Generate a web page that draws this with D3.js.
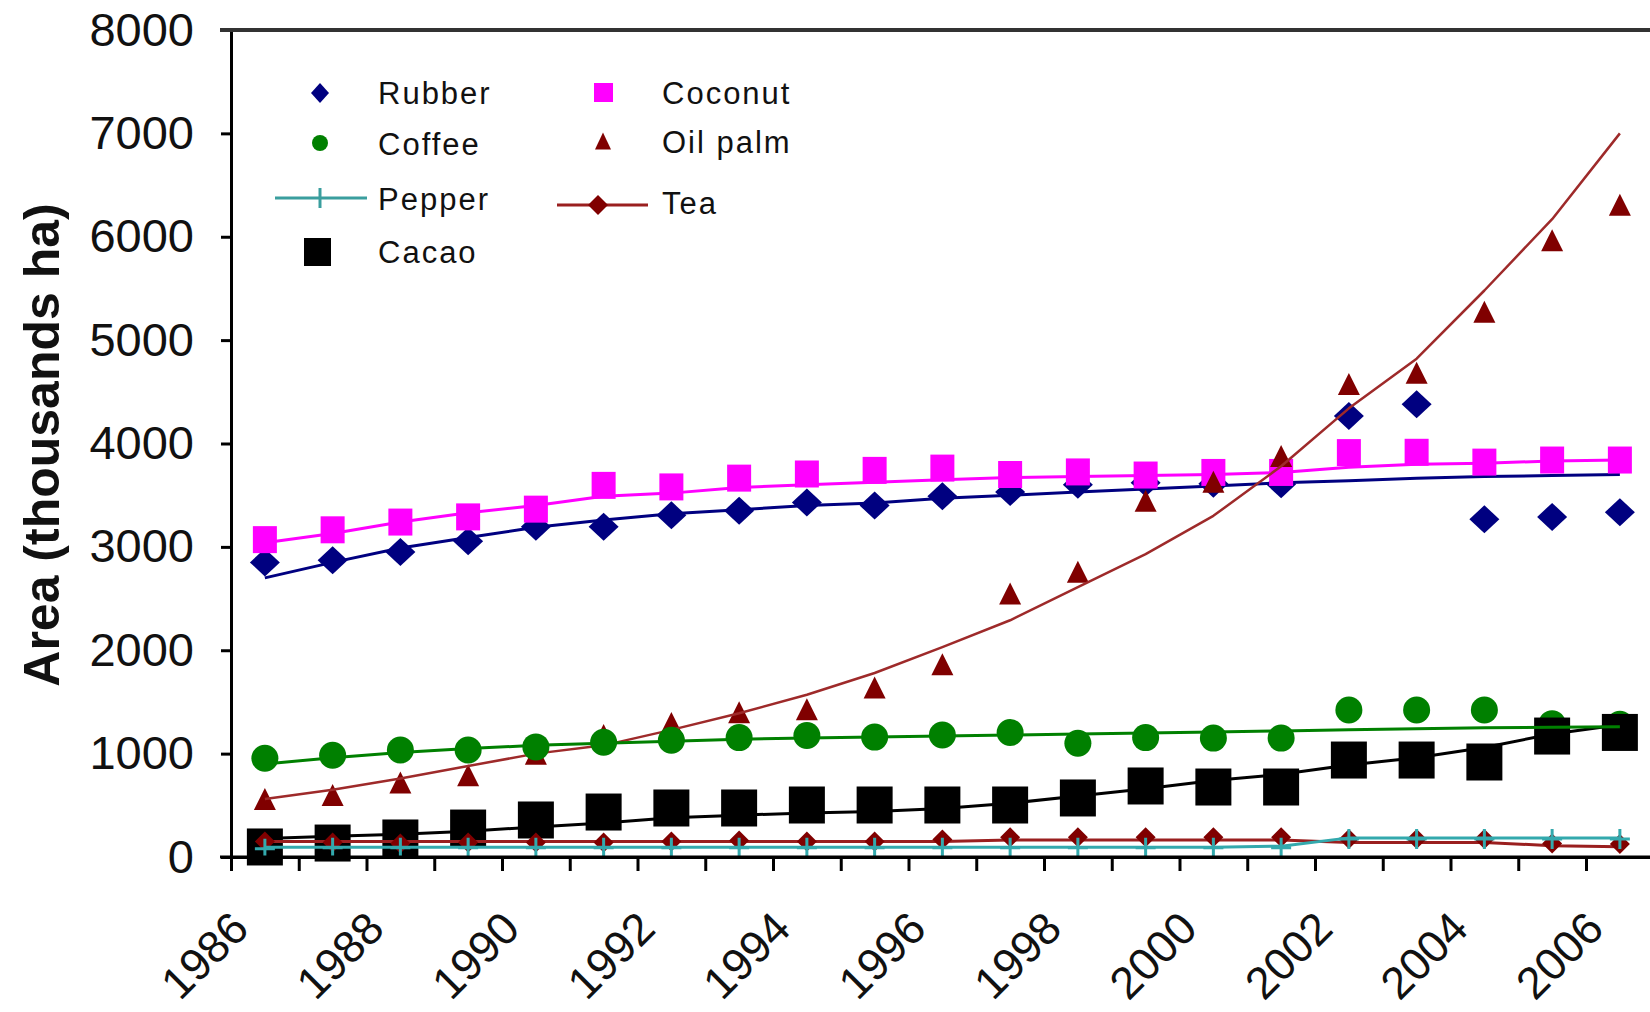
<!DOCTYPE html>
<html><head><meta charset="utf-8">
<script src="https://cdn.jsdelivr.net/npm/d3@7"></script>
<style>html,body{margin:0;padding:0;background:#fff;} svg{display:block;}</style>
</head><body>
<svg id="chart" width="1650" height="1012"></svg>
<script>
// ---- DATA ----
const years = [1986,1987,1988,1989,1990,1991,1992,1993,1994,1995,1996,1997,1998,1999,2000,2001,2002,2003,2004,2005,2006];
const xTickLabels = [1986,1988,1990,1992,1994,1996,1998,2000,2002,2004,2006];
const yTickValues = [0,1000,2000,3000,4000,5000,6000,7000,8000];

const rubberPoints  = [2850,2870,2950,3055,3195,3195,3305,3350,3430,3400,3490,3530,3600,3620,3610,3605,4265,4380,3267,3290,3335];
const rubberLine    = [2700,2850,2990,3090,3190,3260,3320,3360,3400,3425,3470,3500,3530,3560,3590,3620,3640,3665,3680,3690,3700];
const coconutPoints = [3070,3165,3240,3290,3365,3595,3580,3665,3705,3740,3762,3700,3725,3695,3720,3720,3912,3915,3820,3840,3840];
const coconutLine   = [3040,3130,3240,3330,3400,3490,3520,3575,3600,3625,3650,3670,3680,3690,3700,3720,3770,3800,3810,3830,3840];
const coffeePoints  = [955,985,1035,1035,1065,1110,1130,1155,1175,1160,1180,1205,1100,1155,1150,1150,1422,1422,1422,1290,1285];
const coffeeLine    = [900,960,1010,1050,1080,1100,1120,1140,1150,1160,1170,1180,1190,1200,1210,1220,1230,1240,1250,1255,1260];
const oilPalmPoints = [560,600,720,790,1000,1180,1296,1400,1430,1640,1865,2550,2760,3445,3630,3880,4575,4685,5275,5965,6310];
const oilPalmLine   = [560,650,760,880,1000,1080,1230,1390,1570,1780,2030,2290,2610,2930,3300,3780,4340,4820,5480,6170,7000];
const cacaoPoints   = [97,135,184,280,358,435,474,474,503,503,503,503,571,687,677,677,938,938,919,1170,1205];
const cacaoLine     = [180,200,220,250,290,330,380,405,425,440,470,520,590,660,740,800,890,960,1060,1190,1280];
const teaPoints     = [150,140,130,140,140,140,150,160,150,150,170,190,190,190,190,190,175,175,175,130,125];
const teaLine       = [150,150,150,150,150,150,150,150,150,150,150,165,165,165,165,165,140,140,140,110,100];
const pepperPoints  = [80,90,90,90,90,90,90,90,90,90,90,90,90,90,90,90,175,175,175,175,175];
const pepperLine    = [95,95,95,95,95,95,95,95,95,95,95,95,95,95,95,105,185,185,185,185,185];

const legendLeft  = ["Rubber","Coffee","Pepper","Cacao"];
const legendRight = ["Coconut","Oil palm","Tea"];

// ---- CHART ----
const svg = d3.select("#chart");
const FONT = "'Liberation Sans', Arial, sans-serif";
const x = d3.scaleBand().domain(years).range([231, 231 + 21 * 67.75]).padding(0);
const y = d3.scaleLinear().domain([0, 8000]).range([857, 30]);
const cx = yr => x(yr) + x.bandwidth() / 2;

const C = {
  rubber: "#000080", coconut: "#ff00ff", coffee: "#008000",
  oil: "#800000", oilLine: "#9e2a2a", cacao: "#000000",
  tea: "#800000", teaLine: "#9a1f1f", pepper: "#33a9ad", pepperLegend: "#3a9e9e"
};

const plot = svg.append("g");

// axes
const yAxis = svg.append("g").attr("transform", "translate(231,0)")
  .call(d3.axisLeft(y).tickValues(yTickValues).tickSize(10).tickPadding(27).tickFormat(d3.format("d")));
yAxis.select(".domain").attr("stroke", "#000").attr("stroke-width", 3);
yAxis.selectAll(".tick line").attr("stroke", "#000").attr("stroke-width", 3);
yAxis.selectAll(".tick text").attr("font-family", FONT).attr("font-size", 47).attr("fill", "#111");

// top border
svg.append("line").attr("x1", 220).attr("x2", 1650).attr("y1", y(8000)).attr("y2", y(8000))
  .attr("stroke", "#333").attr("stroke-width", 4);

// x axis (ticks at category boundaries)
const xb = d3.scaleLinear().domain([0, years.length]).range(x.range());
const xAxisTicks = svg.append("g").attr("transform", `translate(0,${y(0)})`)
  .call(d3.axisBottom(xb).tickValues(d3.range(0, years.length + 1)).tickSize(14).tickFormat(""));
xAxisTicks.select(".domain").attr("stroke", "#000").attr("stroke-width", 3);
xAxisTicks.selectAll(".tick line").attr("stroke", "#000").attr("stroke-width", 3);
svg.append("line").attr("x1", 220).attr("x2", 1650).attr("y1", y(0)).attr("y2", y(0)).attr("stroke", "#000").attr("stroke-width", 3);

const xLabels = svg.append("g").attr("transform", `translate(0,${y(0)})`)
  .call(d3.axisBottom(x).tickValues(xTickLabels).tickSize(0));
xLabels.select(".domain").remove();
xLabels.selectAll(".tick text")
  .attr("font-family", FONT).attr("font-size", 45).attr("fill", "#111")
  .attr("text-anchor", "end").attr("y", 0).attr("dy", 0)
  .attr("transform", "translate(-14,74) rotate(-45)");

// y title
svg.append("text").attr("transform", `translate(59,445) rotate(-90)`)
  .attr("text-anchor", "middle").attr("font-family", FONT).attr("font-weight", "bold")
  .attr("font-size", 50).attr("fill", "#111").text("Area (thousands ha)");

// helpers
const lineGen = d3.line().x((d, i) => cx(years[i])).y(d => y(d));
function drawLine(vals, color, w) {
  plot.append("path").datum(vals).attr("d", lineGen).attr("fill", "none")
    .attr("stroke", color).attr("stroke-width", w).attr("stroke-linejoin", "round");
}
const diamondPath = (px, py, hw, hh) => `M${px},${py - hh}L${px + hw},${py}L${px},${py + hh}L${px - hw},${py}Z`;
const triPath = (px, py, w, h) => `M${px},${py - h / 2}L${px + w / 2},${py + h / 2}L${px - w / 2},${py + h / 2}Z`;

function diamonds(vals, color, hw, hh) {
  plot.append("g").selectAll("path").data(vals).join("path")
    .attr("d", (d, i) => diamondPath(cx(years[i]), y(d), hw, hh)).attr("fill", color);
}
function squares(vals, color, w, h) {
  plot.append("g").selectAll("rect").data(vals).join("rect")
    .attr("x", (d, i) => cx(years[i]) - w / 2).attr("y", d => y(d) - h / 2)
    .attr("width", w).attr("height", h).attr("fill", color);
}
function circles(vals, color, r) {
  plot.append("g").selectAll("circle").data(vals).join("circle")
    .attr("cx", (d, i) => cx(years[i])).attr("cy", d => y(d)).attr("r", r).attr("fill", color);
}
function triangles(vals, color, w, h) {
  plot.append("g").selectAll("path").data(vals).join("path")
    .attr("d", (d, i) => triPath(cx(years[i]), y(d), w, h)).attr("fill", color);
}
function pluses(vals, color, s) {
  const g = plot.append("g");
  g.selectAll("path").data(vals).join("path")
    .attr("d", (d, i) => { const px = cx(years[i]), py = y(d); return `M${px - s},${py}H${px + s}M${px},${py - s}V${py + s}`; })
    .attr("stroke", color).attr("stroke-width", 3).attr("fill", "none");
}

// series
drawLine(rubberLine, C.rubber, 3);
diamonds(rubberPoints, C.rubber, 15, 14);
drawLine(coconutLine, C.coconut, 3);
squares(coconutPoints, C.coconut, 24, 27);
triangles(oilPalmPoints, C.oil, 22, 22);
drawLine(oilPalmLine, C.oilLine, 2.5);
circles(coffeePoints, C.coffee, 13.5);
drawLine(cacaoLine, C.cacao, 3);
squares(cacaoPoints, C.cacao, 36, 37);
drawLine(coffeeLine, C.coffee, 3);
drawLine(teaLine, C.teaLine, 3);
diamonds(teaPoints, C.tea, 10, 10);
drawLine(pepperLine, C.pepper, 3);
pluses(pepperPoints, C.pepper, 10);

// legend
const lg = svg.append("g").attr("font-family", FONT).attr("font-size", 31).attr("fill", "#111").attr("letter-spacing", 2);
const leftY = [104, 155, 210, 263];
const rightY = [104, 153, 214];
legendLeft.forEach((t, i) => lg.append("text").attr("x", 378).attr("y", leftY[i]).text(t));
legendRight.forEach((t, i) => lg.append("text").attr("x", 662).attr("y", rightY[i]).text(t));
// left markers
lg.append("path").attr("d", diamondPath(320, 93, 9, 10)).attr("fill", C.rubber);
lg.append("circle").attr("cx", 320).attr("cy", 143).attr("r", 8).attr("fill", C.coffee);
lg.append("line").attr("x1", 275).attr("x2", 367).attr("y1", 198).attr("y2", 198).attr("stroke", C.pepperLegend).attr("stroke-width", 3);
lg.append("path").attr("d", "M320,188V208").attr("stroke", C.pepperLegend).attr("stroke-width", 3);
lg.append("rect").attr("x", 304).attr("y", 238).attr("width", 27).attr("height", 28).attr("fill", "#000");
// right markers
lg.append("rect").attr("x", 594).attr("y", 83).attr("width", 19).attr("height", 19).attr("fill", C.coconut);
lg.append("path").attr("d", triPath(603, 141, 16, 17)).attr("fill", C.oil);
lg.append("line").attr("x1", 557).attr("x2", 648).attr("y1", 205).attr("y2", 205).attr("stroke", C.teaLine).attr("stroke-width", 3);
lg.append("path").attr("d", diamondPath(598, 205, 10, 10)).attr("fill", C.tea);
</script>
</body></html>
